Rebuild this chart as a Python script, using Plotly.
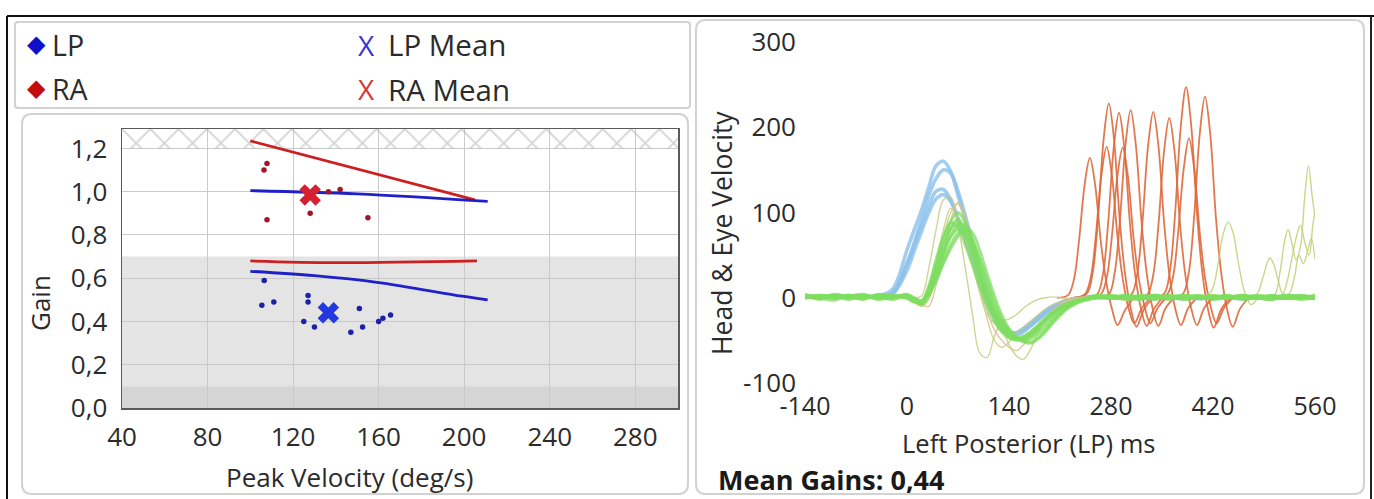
import plotly.graph_objects as go

W, H = 1374, 499

# ---------------- data: left chart (gain vs peak velocity) ----------------
LP_VEL = [106.5, 105.4, 111, 127, 127, 125, 130, 147, 152.5, 151, 160, 162, 165.6]
LP_GAIN = [0.59, 0.475, 0.49, 0.52, 0.49, 0.40, 0.375, 0.35, 0.375, 0.46, 0.40, 0.415, 0.43]
RA_VEL = [107.8, 106.4, 107.8, 128, 136.5, 142, 155]
RA_GAIN = [1.13, 1.10, 0.87, 0.90, 1.0, 1.01, 0.88]
LP_MEAN = (136.5, 0.44)
RA_MEAN = (128, 0.985)

RA_UPPER_X = [100, 205]
RA_UPPER_Y = [1.235, 0.962]
LP_UPPER_X = [100, 150, 211]
LP_UPPER_Y = [1.005, 0.99, 0.955]
RA_LOWER_X = [100, 140, 206]
RA_LOWER_Y = [0.68, 0.672, 0.68]
LP_LOWER_X = [100, 130, 160, 199, 211]
LP_LOWER_Y = [0.632, 0.612, 0.58, 0.517, 0.50]

GAIN_X_TICKS = [40, 80, 120, 160, 200, 240, 280]
GAIN_Y_TICKS = [0.0, 0.2, 0.4, 0.6, 0.8, 1.0, 1.2]
GAIN_Y_TEXT = ["0,0", "0,2", "0,4", "0,6", "0,8", "1,0", "1,2"]
GAIN_X_RANGE = [40, 300]
GAIN_Y_RANGE = [0, 1.29]
BAND_DARK = (0.0, 0.1)
BAND_GRAY = (0.1, 0.7)
BAND_HATCH = (1.2, 1.29)

# ---------------- data: right chart (velocity traces) ----------------
T = [-140, -120, -100, -80, -60, -40, -20, 0,
     10, 20, 30, 40, 50, 60, 70, 80, 90, 100, 110, 120, 130, 140, 150, 160,
     170, 180, 190, 200, 210, 220, 230, 240,
     260, 280, 300, 320, 340, 360, 380, 400, 420, 440, 460, 480, 500, 520, 540, 560]

HEAD_1 = [1, 2, 1, 2, 1, 2, 10, 56, 80, 103, 130, 155, 160, 148, 120, 92, 60, 25, 0, -22, -38, -44, -42, -36,
          -29, -22, -16, -10, -6, -3, -1, 0, 0, 1, 0, -1, 0, 1, 0, 0, 1, 0, -1, 0, 1, 0, 0, 1]
HEAD_2 = [2, 1, 2, 1, 2, 1, 5, 40, 65, 92, 120, 140, 150, 146, 125, 96, 65, 33, 5, -18, -33, -42, -44, -40,
          -33, -26, -19, -13, -8, -4, -2, 0, 1, 0, 0, 1, -1, 0, 1, 0, 0, 1, 0, 0, -1, 1, 0, 0]
HEAD_3 = [1, 1, 2, 1, 1, 2, 6, 40, 62, 85, 108, 125, 127, 115, 92, 68, 42, 16, -6, -24, -36, -42, -41, -36,
          -30, -23, -16, -10, -6, -3, -1, 0, 0, 0, 1, 0, 1, 0, 0, -1, 0, 1, 0, 0, 1, 0, 1, 0]
HEAD_4 = [2, 1, 1, 2, 1, 1, 4, 32, 55, 78, 100, 116, 121, 113, 93, 70, 45, 20, -2, -20, -33, -40, -41, -38,
          -32, -25, -18, -12, -7, -4, -2, 0, 1, 0, 0, 0, 1, 0, -1, 0, 1, 0, 0, 1, 0, 0, 1, 0]

EYE_1 = [3, -2, 4, 1, -1, 3, 2, 0, -4, -6, 10, 35, 60, 82, 92, 80, 55, 25, 0, -20, -35, -44, -48, -47,
         -42, -34, -26, -18, -12, -8, -5, -3, 0, 2, -1, 3, 1, -2, 2, 0, 3, -1, 2, 0, -2, 3, 1, -1]
EYE_2 = [-1, 3, 0, 2, 4, -2, 1, 3, -2, -8, 2, 25, 50, 72, 85, 84, 68, 42, 15, -10, -28, -40, -47, -50,
         -48, -42, -34, -25, -17, -11, -6, -3, 2, -1, 3, 0, -2, 2, 1, -1, 2, 0, 3, -1, 1, 2, -2, 0]
EYE_3 = [2, 0, -3, 3, 1, 2, -1, 4, 0, -3, 12, 40, 68, 90, 100, 88, 60, 28, 2, -18, -32, -42, -46, -45,
         -40, -33, -25, -18, -12, -7, -4, -2, 1, 3, 0, -2, 2, 0, 3, 1, -1, 2, 0, 3, 1, -1, 2, 1]
EYE_4 = [4, 1, 2, -2, 3, 0, 2, -1, -5, -4, 5, 22, 42, 62, 76, 78, 66, 45, 20, -5, -25, -38, -46, -50,
         -52, -47, -38, -28, -19, -12, -7, -4, 0, 1, 2, -1, 3, 0, -1, 2, 1, 3, -2, 0, 2, 1, 0, 3]
EYE_5 = [0, 2, 3, 1, -2, 4, 1, 2, -3, -7, 6, 30, 58, 80, 88, 75, 50, 22, -2, -22, -37, -46, -50, -49,
         -44, -36, -27, -19, -13, -8, -5, -2, 3, 0, -1, 2, 0, 3, -2, 1, 0, 2, 1, -1, 3, 0, 2, -1]
EYE_6 = [2, -1, 1, 3, 0, 2, 3, 1, -2, -5, 8, 28, 52, 72, 80, 74, 58, 32, 8, -14, -30, -41, -47, -48,
         -45, -38, -30, -22, -15, -9, -5, -3, 1, 2, -2, 0, 2, 1, 3, -1, 0, 2, -1, 1, 0, 3, 1, 2]
EYE_7 = [1, 3, -1, 2, 2, -1, 0, 3, -4, -6, 14, 45, 72, 88, 82, 62, 38, 12, -10, -28, -40, -47, -49, -46,
         -40, -32, -24, -17, -11, -7, -4, -2, 2, 0, 3, 1, -1, 2, 0, 3, -1, 1, 2, 0, -2, 1, 3, 0]
EYE_8 = [3, 0, 2, -1, 3, 1, -2, 2, -1, -4, 4, 20, 40, 58, 72, 82, 76, 55, 28, 2, -20, -36, -46, -52,
         -53, -48, -40, -30, -21, -13, -8, -4, 0, 2, 1, -1, 3, 0, 2, 1, -2, 0, 3, 1, 2, -1, 0, 2]

THIN_1 = [2, 0, 3, 1, -1, 2, 0, 1, 0, 2, 35, 80, 115, 118, 85, 35, -20, -65, -70, -45, -28, -25, -20, -12,
          -6, -2, 0, 1, 0, -1, 0, 1, 0, 2, -1, 1, 0, 2, 0, -1, 1, 0, 2, 0, 1, -1, 0, 1]
THIN_2 = [1, -1, 2, 0, 3, 1, 2, 0, -2, -4, 5, 40, 80, 105, 95, 70, 40, 5, -20, -30, -35, -55, -68, -72,
          -60, -40, -25, -15, -9, -5, -3, -1, 1, 0, 2, 1, 0, -1, 2, 0, 1, 0, -1, 2, 1, 0, 2, 0]
THIN_3 = [0, 2, 1, 3, 0, 2, 1, -1, -6, -10, -2, 30, 70, 100, 110, 90, 55, 15, -25, -50, -58, -52, -42, -35,
          -28, -20, -13, -8, -5, -3, -1, 0, 2, 1, 0, -1, 1, 2, 0, 1, -1, 0, 1, 2, 0, 1, -1, 0]
THIN_4 = [1, 0, -1, 2, 1, 0, 3, 1, -3, -8, -10, 15, 50, 90, 112, 95, 60, 20, -15, -38, -50, -58, -62, -55,
          -45, -35, -25, -15, -8, -4, -2, 0, 1, 0, 1, 2, 0, 1, 0, -1, 2, 1, 0, 1, -1, 0, 2, 1]

SAC_T = [
    [206, 221, 229, 236, 244, 251, 258, 266, 273, 281, 289, 299, 311],
    [229, 244, 252, 259, 267, 274, 281, 289, 296, 304, 312, 322, 334],
    [232, 247, 255, 262, 270, 277, 284, 292, 299, 307, 315, 325, 337],
    [246, 261, 269, 276, 284, 291, 298, 306, 313, 321, 329, 339, 351],
    [251, 266, 274, 281, 289, 296, 303, 311, 318, 326, 334, 344, 356],
    [262, 277, 285, 292, 300, 307, 314, 322, 329, 337, 345, 355, 367],
    [293, 308, 316, 323, 331, 338, 345, 353, 360, 368, 376, 386, 398],
    [315, 330, 338, 345, 353, 360, 367, 375, 382, 390, 398, 408, 420],
    [338, 353, 361, 368, 376, 383, 390, 398, 405, 413, 421, 431, 443],
    [342, 357, 365, 372, 380, 387, 394, 402, 409, 417, 425, 435, 447],
    [364, 379, 387, 394, 402, 409, 416, 424, 431, 439, 447, 457, 469],
]
SAC_V = [
    [0, 3, 21, 66, 134, 164, 134, 66, 21, -12, -32, -15, 0],
    [0, 4, 23, 71, 145, 177, 145, 71, 23, -12, -30, -13, 0],
    [0, 5, 30, 91, 187, 228, 187, 91, 30, -12, -34, -14, 0],
    [0, 4, 28, 87, 178, 217, 178, 87, 28, -12, -33, -13, 0],
    [0, 4, 23, 70, 144, 176, 144, 70, 23, -10, -30, -12, 0],
    [0, 4, 29, 88, 180, 220, 180, 88, 29, -12, -33, -12, 0],
    [0, 4, 28, 87, 179, 218, 179, 87, 28, -12, -32, -12, 0],
    [0, 4, 27, 84, 173, 211, 173, 84, 27, -12, -32, -12, 0],
    [0, 5, 32, 99, 203, 247, 203, 99, 32, -13, -35, -14, 0],
    [0, 4, 24, 75, 153, 187, 153, 75, 24, -11, -30, -12, 0],
    [0, 5, 31, 94, 194, 236, 194, 94, 31, -12, -34, -13, 0],
]

LATE_T = [
    [405, 418, 427, 434, 441, 448, 455, 464, 472, 482],
    [468, 480, 488, 494, 498, 503, 509, 517, 527],
    [495, 505, 512, 518, 523, 528, 534, 540, 546, 551, 556, 560],
    [505, 515, 522, 528, 534, 540, 546, 552, 557, 560],
    [515, 525, 532, 538, 544, 550, 555, 560],
]
LATE_V = [
    [0, 8, 40, 75, 89, 75, 40, 5, -8, 0],
    [0, 4, 22, 40, 47, 40, 22, 2, 0],
    [0, 4, 30, 65, 80, 65, 45, 60, 120, 155, 120, 95],
    [0, 3, 20, 45, 70, 85, 65, 50, 85, 100],
    [0, 5, 25, 50, 40, 55, 70, 45],
]

VEL_X_TICKS = [-140, 0, 140, 280, 420, 560]
VEL_X_TEXT = ["-140", "0", "140", "280", "420", "560"]
VEL_Y_TICKS = [-100, 0, 100, 200, 300]
VEL_Y_TEXT = ["-100", "0", "100", "200", "300"]
VEL_X_RANGE = [-140, 560]
VEL_Y_RANGE = [-100, 300]


# ---------------- helpers (layout only) ----------------
def PX(x):
    return x / W


def PY(y):
    return 1 - y / H


def rrect(x0, y0, x1, y1, r):
    def p(x, y):
        return f"{PX(x):.5f},{PY(y):.5f}"
    return (f"M {p(x0 + r, y0)} L {p(x1 - r, y0)} Q {p(x1, y0)} {p(x1, y0 + r)} "
            f"L {p(x1, y1 - r)} Q {p(x1, y1)} {p(x1 - r, y1)} L {p(x0 + r, y1)} "
            f"Q {p(x0, y1)} {p(x0, y1 - r)} L {p(x0, y0 + r)} Q {p(x0, y0)} {p(x0 + r, y0)} Z")


FONT = "Open Sans"
TXT = "#2b2b2b"

fig = go.Figure()

# ---------- left chart ----------
fig.add_trace(go.Scatter(
    x=[GAIN_X_RANGE[0], GAIN_X_RANGE[1], GAIN_X_RANGE[1], GAIN_X_RANGE[0], GAIN_X_RANGE[0]],
    y=[BAND_HATCH[0], BAND_HATCH[0], BAND_HATCH[1], BAND_HATCH[1], BAND_HATCH[0]],
    mode="lines", line=dict(width=0), fill="toself", fillcolor="rgba(255,255,255,0)",
    fillpattern=dict(shape="x", fgcolor="#a9a9a9", size=20, solidity=0.18),
    hoverinfo="skip", showlegend=False, xaxis="x", yaxis="y"))

line_w = 2.8
fig.add_trace(go.Scatter(x=RA_UPPER_X, y=RA_UPPER_Y, mode="lines",
                         line=dict(color="#cc2020", width=line_w), showlegend=False))
fig.add_trace(go.Scatter(x=LP_UPPER_X, y=LP_UPPER_Y, mode="lines", line_shape="spline",
                         line=dict(color="#2020c8", width=line_w), showlegend=False))
fig.add_trace(go.Scatter(x=RA_LOWER_X, y=RA_LOWER_Y, mode="lines", line_shape="spline",
                         line=dict(color="#cc2020", width=line_w), showlegend=False))
fig.add_trace(go.Scatter(x=LP_LOWER_X, y=LP_LOWER_Y, mode="lines", line_shape="spline",
                         line=dict(color="#2020c8", width=line_w), showlegend=False))

fig.add_trace(go.Scatter(x=LP_VEL, y=LP_GAIN, mode="markers",
                         marker=dict(color="#1c22a8", size=5.5), showlegend=False))
fig.add_trace(go.Scatter(x=RA_VEL, y=RA_GAIN, mode="markers",
                         marker=dict(color="#a01828", size=5.5), showlegend=False))
fig.add_trace(go.Scatter(x=[LP_MEAN[0]], y=[LP_MEAN[1]], mode="markers",
                         marker=dict(color="#2438e0", size=19, symbol="x", line=dict(width=0)),
                         showlegend=False))
fig.add_trace(go.Scatter(x=[RA_MEAN[0]], y=[RA_MEAN[1]], mode="markers",
                         marker=dict(color="#d42030", size=19, symbol="x", line=dict(width=0)),
                         showlegend=False))

# ---------- right chart ----------
for vals in [HEAD_1, HEAD_2, HEAD_3, HEAD_4]:
    fig.add_trace(go.Scatter(x=T, y=vals, mode="lines", line_shape="spline",
                             line=dict(color="rgba(140,192,235,0.8)", width=3.6),
                             showlegend=False, xaxis="x2", yaxis="y2"))
for tt, vv in zip(SAC_T, SAC_V):
    fig.add_trace(go.Scatter(x=tt, y=vv, mode="lines", line_shape="spline",
                             line=dict(color="rgba(222,105,60,0.9)", width=1.8),
                             showlegend=False, xaxis="x2", yaxis="y2"))
for tt, vv in zip(LATE_T, LATE_V):
    fig.add_trace(go.Scatter(x=tt, y=vv, mode="lines", line_shape="spline",
                             line=dict(color="rgba(190,208,120,0.85)", width=1.4),
                             showlegend=False, xaxis="x2", yaxis="y2"))
for i, vals in enumerate([THIN_1, THIN_2, THIN_3, THIN_4]):
    col = "rgba(200,205,130,0.85)" if i < 3 else "rgba(215,190,140,0.85)"
    fig.add_trace(go.Scatter(x=T, y=vals, mode="lines", line_shape="spline",
                             line=dict(color=col, width=1.4),
                             showlegend=False, xaxis="x2", yaxis="y2"))
for vals in [EYE_1, EYE_2, EYE_3, EYE_4, EYE_5, EYE_6, EYE_7, EYE_8]:
    fig.add_trace(go.Scatter(x=T, y=vals, mode="lines", line_shape="spline",
                             line=dict(color="rgba(125,222,95,0.75)", width=3.0),
                             showlegend=False, xaxis="x2", yaxis="y2"))

# ---------- shapes ----------
shapes = [
    dict(type="rect", xref="x", yref="y", x0=GAIN_X_RANGE[0], x1=GAIN_X_RANGE[1],
         y0=BAND_GRAY[0], y1=BAND_GRAY[1], fillcolor="#e4e4e4", line=dict(width=0), layer="below"),
    dict(type="rect", xref="x", yref="y", x0=GAIN_X_RANGE[0], x1=GAIN_X_RANGE[1],
         y0=BAND_DARK[0], y1=BAND_DARK[1], fillcolor="#d5d5d5", line=dict(width=0), layer="below"),
    dict(type="path", xref="paper", yref="paper", path=rrect(15, 22, 690, 108, 3),
         line=dict(color="#d2d2d2", width=2), layer="below"),
    dict(type="path", xref="paper", yref="paper", path=rrect(22, 114, 688, 494, 10),
         line=dict(color="#d2d2d2", width=2), layer="below"),
    dict(type="path", xref="paper", yref="paper", path=rrect(696, 20, 1364, 494, 10),
         line=dict(color="#d2d2d2", width=2), layer="below"),
    dict(type="line", xref="paper", yref="paper", x0=PX(7), x1=PX(1374), y0=PY(16), y1=PY(16),
         line=dict(color="#111111", width=2)),
    dict(type="line", xref="paper", yref="paper", x0=PX(7), x1=PX(7), y0=PY(16), y1=PY(499),
         line=dict(color="#111111", width=2)),
    dict(type="line", xref="paper", yref="paper", x0=PX(1371), x1=PX(1371), y0=PY(16), y1=PY(499),
         line=dict(color="#222222", width=2)),
]

ann = []


def add_text(text, x, y, size, color=TXT, xanchor="center", angle=0, bold=False, family=FONT):
    ann.append(dict(text=f"<b>{text}</b>" if bold else text, x=PX(x), y=PY(y), xref="paper", yref="paper",
                    xanchor=xanchor, yanchor="middle", showarrow=False, textangle=angle,
                    font=dict(family=family, size=size, color=color)))


# legend
add_text("◆", 36, 44, 24, color="#1010cc", family="DejaVu Sans")
add_text("LP", 50, 45, 28.5, xanchor="left")
add_text("◆", 36, 88, 24, color="#c40c0c", family="DejaVu Sans")
add_text("RA", 50, 89, 28.5, xanchor="left")
add_text("X", 366, 45, 28, color="#3838d8")
add_text("LP Mean", 386, 45, 29.5, xanchor="left")
add_text("X", 366, 89, 28, color="#d83838")
add_text("RA Mean", 386, 89, 29.5, xanchor="left")

# axis titles
add_text("Gain", 40, 303, 26, angle=-90)
add_text("Peak Velocity (deg/s)", 349, 477, 26)
add_text("Head &amp; Eye Velocity", 722, 233, 26.5, angle=-90)
add_text("Left Posterior (LP) ms", 1028, 443, 25.5)
add_text("Mean Gains: 0,44", 716, 479, 27, xanchor="left", bold=True, color="#1a1a1a")

tickfont = dict(family=FONT, size=26, color=TXT)

fig.update_layout(
    width=W, height=H, margin=dict(l=0, r=0, t=0, b=0, autoexpand=False),
    paper_bgcolor="white", plot_bgcolor="white",
    showlegend=False, shapes=shapes, annotations=ann,
    xaxis=dict(domain=[PX(122), PX(678)], range=GAIN_X_RANGE, tickvals=GAIN_X_TICKS,
               ticktext=[str(v) for v in GAIN_X_TICKS], showgrid=True, gridcolor="#cacaca", gridwidth=1,
               showline=True, linecolor="#5a5a5a", linewidth=1.5, mirror=True, zeroline=False,
               ticks="", tickfont=tickfont, ticklabelstandoff=5, anchor="y", automargin=False),
    yaxis=dict(domain=[PY(408), PY(129)], range=GAIN_Y_RANGE, tickvals=GAIN_Y_TICKS,
               ticktext=GAIN_Y_TEXT, showgrid=True, gridcolor="#cacaca", gridwidth=1,
               showline=True, linecolor="#5a5a5a", linewidth=1.5, mirror=True, zeroline=False,
               ticks="", tickfont=tickfont, ticklabelstandoff=8, anchor="x", automargin=False),
    xaxis2=dict(domain=[PX(805), PX(1315)], range=VEL_X_RANGE, tickvals=VEL_X_TICKS, ticktext=VEL_X_TEXT,
                showgrid=False, zeroline=False, showline=False, ticks="",
                tickfont=dict(family=FONT, size=25, color=TXT),
                ticklabelstandoff=6, anchor="y2", automargin=False),
    yaxis2=dict(domain=[PY(383), PY(42)], range=VEL_Y_RANGE, tickvals=VEL_Y_TICKS, ticktext=VEL_Y_TEXT,
                showgrid=False, zeroline=False, showline=False, ticks="", tickfont=tickfont,
                ticklabelstandoff=8, anchor="x2", automargin=False),
)

fig.write_html(
    "out.html",
    config={"displayModeBar": False, "staticPlot": True},
    post_script="document.body.style.margin='0px';document.body.style.padding='0px';"
                "document.body.style.overflow='hidden';",
)
